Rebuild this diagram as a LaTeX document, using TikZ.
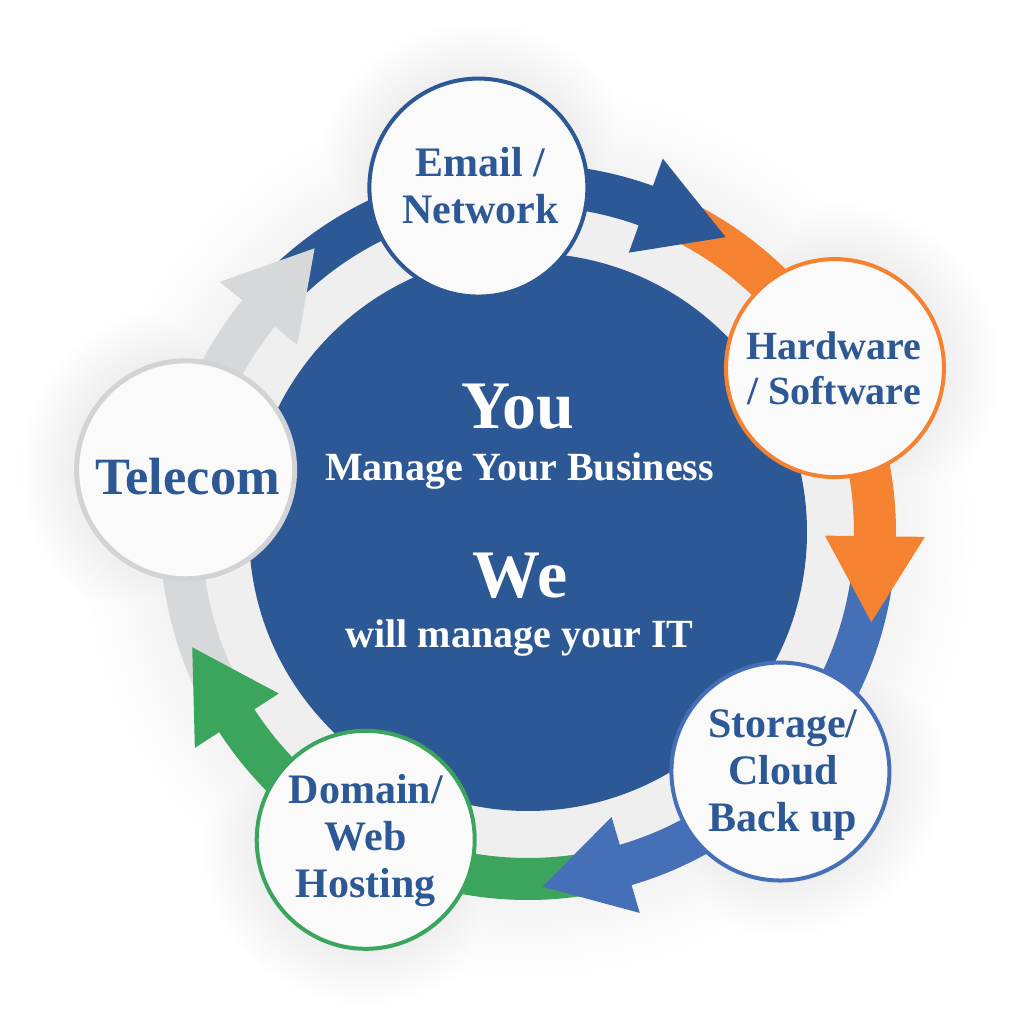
\documentclass[tikz,border=0pt]{standalone}
\usepackage{fontspec}
\setmainfont{Liberation Serif}
\usetikzlibrary{calc}
\definecolor{cblue}{HTML}{2D5896}
\definecolor{corange}{HTML}{F58230}
\definecolor{cmblue}{HTML}{4570B8}
\definecolor{cgreen}{HTML}{3BA55D}
\definecolor{cgray}{HTML}{D6D8DA}
\definecolor{cgrayline}{HTML}{D2D3D5}
\definecolor{ctext}{HTML}{2D5896}
\begin{document}
\begin{tikzpicture}[x=0.5pt,y=0.5pt,
  bub/.style={circle, fill=white!98!black, line width=2pt, minimum size=109pt, inner sep=0pt},
  lbl/.style={text=ctext, font=\bfseries\fontsize{21}{23.5}\selectfont, align=center, inner sep=0pt},
  ctr/.style={text=white, inner sep=0pt, anchor=base}]
\useasboundingbox (-528,-492) rectangle (494,532);
% soft halo / shadow
\foreach \i in {15,14,...,0}{
  \pgfmathsetmacro\p{0.4*(16-\i)}
  \pgfmathsetmacro\rb{338+7*\i}
  \pgfmathsetmacro\rs{112+3.5*\i}
  \fill[black!\p] (0,0) circle (\rb) (98.2:348) circle (\rs) (28.1:348) circle (\rs)
     (-43.5:348) circle (\rs) (-117.8:348) circle (\rs) (169.7:348) circle (\rs);
}
% central circle
\node[circle, fill=cblue, minimum size=279pt, inner sep=0pt] (C) at (0,0) {};
% arrow shafts
\def\Rm{347}
\def\w{21}
\def\hw{50}
\def\tipR{355}
\foreach \col/\s/\b in {cblue/134/70.15, corange/63.15/-0.7, cmblue/-7.7/-73.65, cgreen/-80.65/-147.05, cgray/205.95/140.95}{
  \fill[\col] (\s:\Rm+\w) arc[start angle=\s, end angle=\b-1, radius=\Rm+\w]
     -- (\b-1:\Rm-\w) arc[start angle=\b-1, end angle=\s, radius=\Rm-\w] -- cycle;
}
% arrow heads
\foreach \col/\b/\t in {cblue/70.15/56.15, corange/-0.7/-14.7, cmblue/-73.65/-87.65, cgreen/-147.05/-161.05, cgray/140.95/126.95}{
  \fill[\col] (\b:\Rm+\hw) -- (\t:\tipR) -- (\b:\Rm-\hw) -- cycle;
}
% small circles
\node[bub, draw=cblue] (E) at (98.2:348) {};
\node[bub, draw=corange] (H) at (28.1:348) {};
\node[bub, draw=cmblue] (S) at (-43.5:348) {};
\node[bub, draw=cgreen] (D) at (-117.8:348) {};
\node[bub, draw=cgrayline, line width=2.5pt] (T) at (169.7:348) {};
% labels
\node[lbl] (Et) at ($(E)+(2,1.5)$) {Email /\\Network};
\node[lbl, font=\bfseries\fontsize{20}{22.5}\selectfont] (Ht) at ($(H)+(-1,0)$) {Hardware\\/ Software};
\node[lbl] (St) at ($(S)+(2.5,-3.5)$) {Storage/\\Cloud\\Back up};
\node[lbl] (Dt) at ($(D)+(0,-0.5)$) {Domain/\\Web\\Hosting};
\node[lbl, font=\bfseries\fontsize{26.2}{28}\selectfont] (Tt) at ($(T)+(2,-7)$) {Telecom};
% centre text
\node[ctr, font=\bfseries\fontsize{34}{40}\selectfont] (you) at (-10,104) {You};
\node[ctr, font=\bfseries\fontsize{20}{24}\selectfont] (mgr) at (-8.5,52) {Manage Your Business};
\node[ctr, font=\bfseries\fontsize{34}{40}\selectfont] (we) at (-8,-65) {We};
\node[ctr, font=\bfseries\fontsize{20}{24}\selectfont] (wit) at (-8.5,-115) {will manage your IT};
\end{tikzpicture}
\end{document}
